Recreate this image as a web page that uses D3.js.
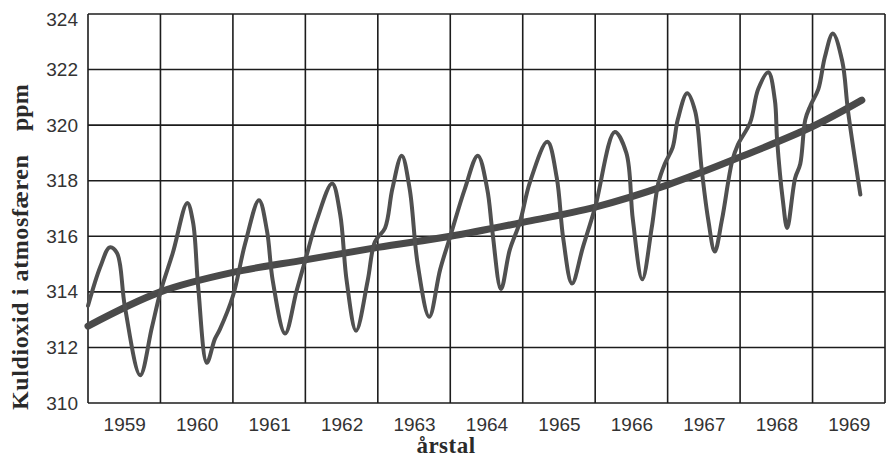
<!DOCTYPE html>
<html lang="da">
<head>
    <meta charset="UTF-8">
    <title>Kuldioxid i atmosfæren</title>
    <script src="https://d3js.org/d3.v7.min.js"></script>
    <style>
        body { margin: 0; background: #fff; }
        .tick text { font-family: "Liberation Sans", Arial, sans-serif; font-size: 19px; fill: #333; }
        .title { font-family: "Liberation Serif", "DejaVu Serif", serif; font-weight: bold; fill: #2a2a2a; }
    </style>
</head>
<body>
    <svg width="887" height="457"></svg>
    <script>
        // values
        const years = [1959, 1960, 1961, 1962, 1963, 1964, 1965, 1966, 1967, 1968, 1969];
        const yTicks = [310, 312, 314, 316, 318, 320, 322, 324];

        // seasonal curve (time in decimal years, ppm)
        const co2Time = [
            1959.00, 1959.17, 1959.30, 1959.40, 1959.51, 1959.72, 1959.88,
            1960.00, 1960.17, 1960.37, 1960.45, 1960.52, 1960.64, 1960.75, 1960.82,
            1961.00, 1961.17, 1961.36, 1961.47, 1961.55, 1961.72, 1961.88,
            1962.00, 1962.16, 1962.37, 1962.48, 1962.57, 1962.70, 1962.86, 1962.96,
            1963.10, 1963.20, 1963.33, 1963.44, 1963.55, 1963.71, 1963.86,
            1964.00, 1964.20, 1964.38, 1964.51, 1964.58, 1964.70, 1964.82, 1964.96,
            1965.10, 1965.34, 1965.47, 1965.56, 1965.68, 1965.83,
            1966.00, 1966.27, 1966.43, 1966.52, 1966.65, 1966.78, 1966.87, 1966.96,
            1967.07, 1967.14, 1967.27, 1967.38, 1967.47, 1967.56, 1967.65, 1967.75, 1967.89, 1967.97,
            1968.14, 1968.25, 1968.39, 1968.48, 1968.51, 1968.59, 1968.65, 1968.76, 1968.83, 1968.90, 1968.97,
            1969.08, 1969.17, 1969.28, 1969.41, 1969.49, 1969.66
        ];
        const co2Ppm = [
            313.5, 314.9, 315.6, 315.4, 313.45, 311.0, 312.7,
            314.0, 315.4, 317.2, 316.5, 314.2, 311.45, 312.3, 312.65,
            313.85, 315.75, 317.3, 316.2, 314.4, 312.5, 314.05,
            315.15, 316.6, 317.9, 316.8, 314.4, 312.6, 314.4, 315.8,
            316.3, 317.7, 318.9, 317.7, 315.0, 313.1, 314.8,
            316.0, 317.7, 318.9, 317.7, 316.2, 314.1, 315.5, 316.5,
            317.95, 319.4, 318.1, 315.9, 314.3, 315.6,
            317.05, 319.75, 319.0, 316.6, 314.45, 316.3, 317.9, 318.6,
            319.2, 320.2, 321.15, 320.5, 318.4, 316.6, 315.45, 316.6, 318.7, 319.3,
            320.1, 321.3, 321.9, 320.9, 319.5, 317.3, 316.3, 318.1, 318.6, 320.2, 320.7,
            321.3, 322.45, 323.3, 322.3, 320.5, 317.5
        ];

        // smoothed trend
        const trendTime = [1959.0, 1960.0, 1961.0, 1962.0, 1963.0, 1964.0, 1965.0, 1966.0, 1967.0, 1968.0, 1969.0, 1969.68];
        const trendPpm = [312.77, 314.0, 314.7, 315.15, 315.6, 316.0, 316.5, 317.05, 317.85, 318.85, 319.95, 320.9];

        const svg = d3.select("svg");
        const plotLeft = 88, plotRight = 885, plotTop = 14, plotBottom = 403;

        const x = d3.scaleLinear().domain([1959, 1970]).range([plotLeft, plotRight]);
        const y = d3.scaleLinear().domain([310, 324]).range([plotBottom, plotTop]);

        // grid
        const grid = svg.append("g").attr("stroke", "#1c1c1c").attr("stroke-width", 1.6);
        grid.selectAll("line.v")
            .data(d3.range(1959, 1971))
            .join("line")
            .attr("class", "v")
            .attr("x1", d => x(d)).attr("x2", d => x(d))
            .attr("y1", plotTop).attr("y2", plotBottom);
        grid.selectAll("line.h")
            .data(yTicks)
            .join("line")
            .attr("class", "h")
            .attr("x1", plotLeft).attr("x2", plotRight)
            .attr("y1", d => y(d)).attr("y2", d => y(d));

        // axes (labels only)
        svg.append("g")
            .attr("transform", `translate(${plotLeft},0)`)
            .call(d3.axisLeft(y).tickValues(yTicks).tickSize(0).tickPadding(10).tickFormat(d3.format("d")))
            .call(g => g.select(".domain").remove())
            .call(g => g.selectAll(".tick").filter(d => d === 324).select("text").attr("dy", "0.6em"));

        svg.append("g")
            .attr("transform", `translate(0,${plotBottom})`)
            .call(d3.axisBottom(x).tickValues(years.map(d => d + 0.5)).tickSize(0).tickPadding(15)
                .tickFormat(d => String(Math.floor(d))))
            .call(g => g.select(".domain").remove());

        // curves
        const line = d3.line()
            .x(d => x(d[0]))
            .y(d => y(d[1]))
            .curve(d3.curveCatmullRom.alpha(0.5));

        svg.append("path")
            .datum(trendTime.map((t, i) => [t, trendPpm[i]]))
            .attr("fill", "none")
            .attr("stroke", "#4a4a4a")
            .attr("stroke-width", 7)
            .attr("stroke-linecap", "round")
            .attr("d", line);

        svg.append("path")
            .datum(co2Time.map((t, i) => [t, co2Ppm[i]]))
            .attr("fill", "none")
            .attr("stroke", "#505050")
            .attr("stroke-width", 4)
            .attr("stroke-linejoin", "round")
            .attr("stroke-linecap", "round")
            .attr("d", line);

        // titles
        svg.append("text")
            .attr("class", "title")
            .attr("x", 446).attr("y", 453)
            .attr("text-anchor", "middle")
            .attr("font-size", 23)
            .attr("letter-spacing", 0.5)
            .text("årstal");

        svg.append("text")
            .attr("class", "title")
            .attr("transform", "translate(28,410) rotate(-90)")
            .attr("font-size", 24)
            .attr("letter-spacing", 0.6)
            .text("Kuldioxid i atmosfæren");

        svg.append("text")
            .attr("class", "title")
            .attr("transform", "translate(28,131) rotate(-90)")
            .attr("font-size", 24)
            .text("ppm");
    </script>
</body>
</html>
